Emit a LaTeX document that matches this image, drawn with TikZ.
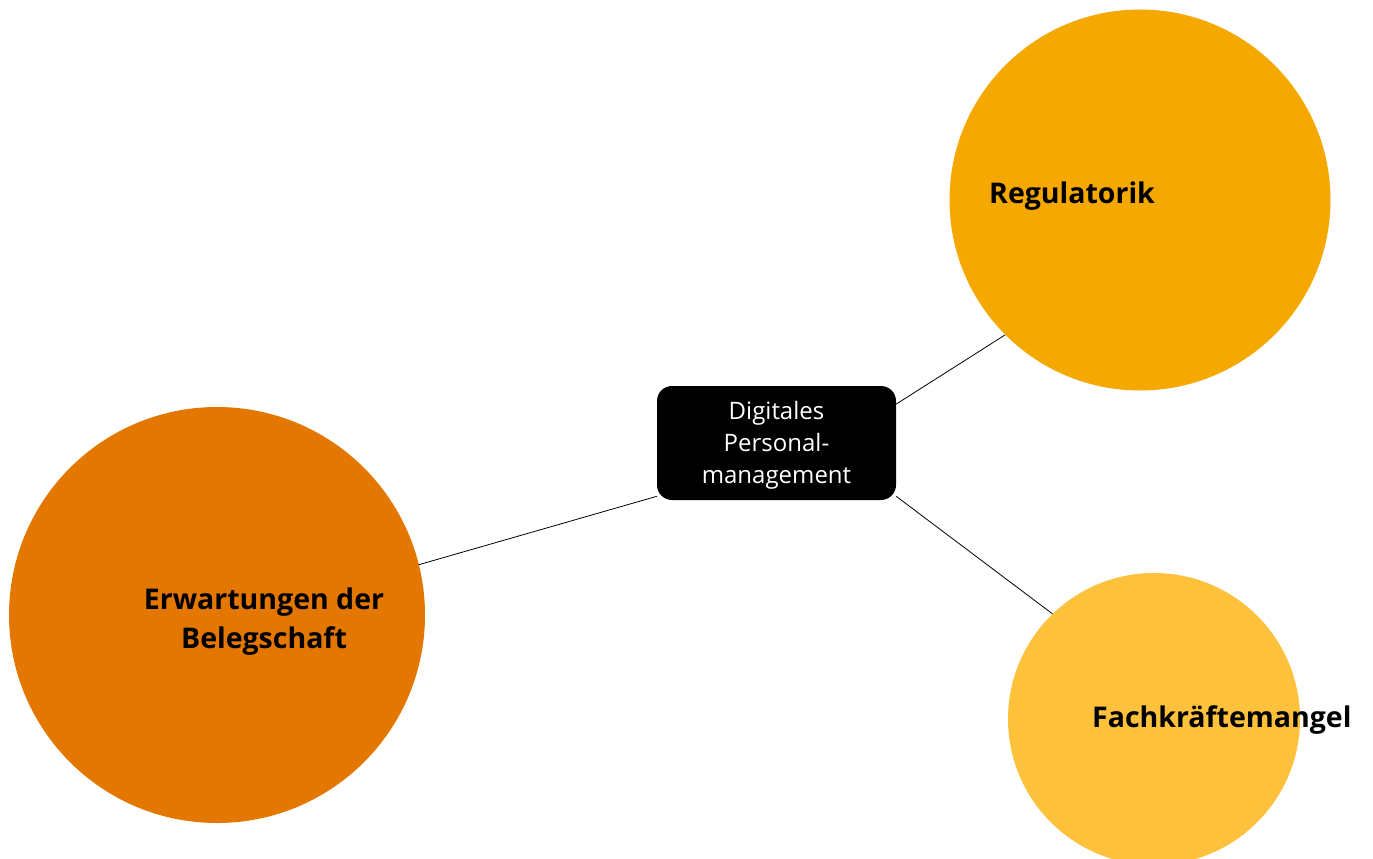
\documentclass[tikz,border=0pt]{standalone}
\usepackage{fontspec}
\setmainfont{Open Sans}
\definecolor{regcol}{HTML}{F5A800}
\definecolor{erwcol}{HTML}{E47700}
\definecolor{fachcol}{HTML}{FEC13B}
\tikzset{
  bubble/.style={circle, inner sep=0pt, draw=none},
  label/.style={font=\bfseries\fontsize{28.5}{39}\selectfont, text=black, align=center, inner sep=0pt},
  centerbox/.style={rectangle, rounded corners=15pt, fill=black, text=white, align=center,
    minimum width=239pt, minimum height=114pt, inner sep=0pt,
    font=\fontsize{24}{32}\selectfont},
  link/.style={draw=black, line width=0.8pt}
}
\begin{document}
\begin{tikzpicture}[x=1pt,y=-1pt]
\useasboundingbox (0,0) rectangle (1373,859);
\clip (0,0) rectangle (1373,859);
\node[bubble, fill=regcol, minimum size=381pt] (reg) at (1140,200) {};
\node[bubble, fill=erwcol, minimum size=416pt] (erw) at (217,615) {};
\node[bubble, fill=fachcol, minimum size=292pt] (fach) at (1154,719) {};
\node[centerbox] (box) at (776.5,443) {};
\node[text=white, align=center, inner sep=0pt, font=\fontsize{24}{32}\selectfont] (boxt) at (776.5,445) {Digitales\\Personal-\\management};
\draw[link] (box.18.5) -- (reg.225);
\draw[link] (box.204.2) -- (erw.14.5);
\draw[link] (box.-24.2) -- (fach.134.4);
\node[label, anchor=west] (regt) at (989,196) {Regulatorik};
\node[label] (erwt) at (264,622) {Erwartungen der\\Belegschaft};
\node[label, anchor=west] (facht) at (1092,720) {Fachkräftemangel};
\end{tikzpicture}
\end{document}
